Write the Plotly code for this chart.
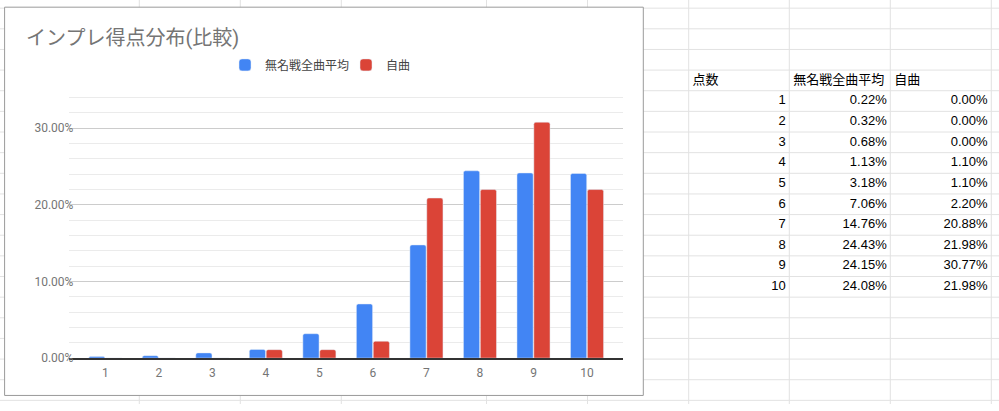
import plotly.graph_objects as go

# データ（スプレッドシートの表と同じ値）
scores = [1, 2, 3, 4, 5, 6, 7, 8, 9, 10]
mumeisen_avg = [0.0022, 0.0032, 0.0068, 0.0113, 0.0318, 0.0706, 0.1476, 0.2443, 0.2415, 0.2408]
jikyoku = [0.0, 0.0, 0.0, 0.0110, 0.0110, 0.0220, 0.2088, 0.2198, 0.3077, 0.2198]
header = ['点数', '無名戦全曲平均', '自曲']
y_ticks = [0, 0.1, 0.2, 0.3]

W, H = 999, 411
SHEET_COLS = [139.3, 240.3, 341.3, 486.5, 587.5, 688.7, 789.3, 890.3, 991.3]
ROW_TOP, ROW_H = 8.3, 21
GRID = '#e2e2e2'
CJK = 'Roboto, Noto Sans CJK JP'
SHEET_FONT = 'Arial, Liberation Sans, Noto Sans CJK JP'
Y_MAX = 0.345
PX_PER_UNIT = 780
ZERO_Y = 364.3


def fx(px):
    return px / W


def fy(py):
    return 1 - py / H


fig = go.Figure()

fig.add_trace(go.Bar(x=scores, y=mumeisen_avg, name=header[1],
                     marker=dict(color='#4285F4', cornerradius=2)))
fig.add_trace(go.Bar(x=scores, y=jikyoku, name=header[2],
                     marker=dict(color='#DB4437', cornerradius=2)))

# 右側の表（列 0..3、行 0=見出し）
PAD = 0.037
rows = [i + 1.5 for i in range(len(scores))]
fig.add_trace(go.Scatter(
    x=[c + PAD for c in range(3)], y=[0.5] * 3, text=header,
    mode='text', textposition='middle right', showlegend=False, hoverinfo='skip',
    textfont=dict(family=SHEET_FONT, size=13, color='black'),
    xaxis='x2', yaxis='y2'))
cols = [
    [str(s) for s in scores],
    [f'{v * 100:.2f}%' for v in mumeisen_avg],
    [f'{v * 100:.2f}%' for v in jikyoku],
]
for i, col in enumerate(cols):
    fig.add_trace(go.Scatter(
        x=[i + 1 - PAD] * len(col), y=rows, text=col,
        mode='text', textposition='middle left', showlegend=False, hoverinfo='skip',
        textfont=dict(family=SHEET_FONT, size=13, color='black'),
        xaxis='x2', yaxis='y2'))

# シートの罫線
shapes = []
for c in SHEET_COLS:
    shapes.append(dict(type='line', xref='paper', yref='paper', layer='below',
                       x0=fx(c), x1=fx(c), y0=0, y1=1, line=dict(color=GRID, width=1)))
r = ROW_TOP
while r < H:
    shapes.append(dict(type='line', xref='paper', yref='paper', layer='below',
                       x0=0, x1=1, y0=fy(r), y1=fy(r), line=dict(color=GRID, width=1)))
    r += ROW_H
# グラフの枠
shapes.append(dict(type='rect', xref='paper', yref='paper', layer='below',
                   x0=fx(4.6), x1=fx(643.3), y0=fy(402.3), y1=fy(7.3),
                   fillcolor='white', line=dict(color='#9a9a9a', width=1)))

fig.update_layout(
    width=W, height=H,
    margin=dict(l=0, r=0, t=0, b=0),
    paper_bgcolor='white',
    plot_bgcolor='rgba(0,0,0,0)',
    shapes=shapes,
    barmode='group', bargap=0.37, bargroupgap=0.04,
    title=dict(text='インプレ得点分布(比較)', x=fx(26), xanchor='left',
               y=fy(38), yanchor='middle',
               font=dict(family=CJK, size=20, color='#757575')),
    legend=dict(orientation='h', x=fx(225), xanchor='left', y=fy(66), yanchor='middle',
                entrywidth=76,
                font=dict(family=CJK, size=12, color='#444444'),
                bgcolor='rgba(0,0,0,0)'),
    xaxis=dict(domain=[fx(69.4), fx(622.9)], range=[0.33, 10.67],
               tickvals=scores, showgrid=False, zeroline=False,
               showline=True, linecolor='#333333', linewidth=1.5,
               ticklabelstandoff=3,
               tickfont=dict(family=CJK, size=12, color='#757575')),
    yaxis=dict(domain=[fy(ZERO_Y), fy(ZERO_Y - Y_MAX * PX_PER_UNIT)], range=[0, Y_MAX],
               tickvals=y_ticks, tickformat='.2%', zeroline=False,
               gridcolor='#cccccc', gridwidth=1,
               minor=dict(dtick=0.02, showgrid=True, gridcolor='#ebebeb', gridwidth=1),
               ticklabelstandoff=-5,
               tickfont=dict(family=CJK, size=12, color='#757575')),
    xaxis2=dict(domain=[fx(688.7), fx(991.3)], range=[0, 3], visible=False,
                fixedrange=True, anchor='y2'),
    yaxis2=dict(domain=[fy(ROW_TOP + ROW_H * 14), fy(ROW_TOP + ROW_H * 3)], range=[11, 0],
                visible=False, fixedrange=True, anchor='x2'),
    showlegend=True,
)

# ページ既定の余白(8px)とはみ出しをなくして 999x411 にぴったり合わせる
page_fix = (
    "document.documentElement.style.overflow='hidden';"
    "document.body.style.margin='0';"
    "document.body.style.overflow='hidden';"
    "document.getElementById('{plot_id}').style.overflow='hidden';"
)
fig.write_html('out.html', config={'displayModeBar': False}, post_script=page_fix)
